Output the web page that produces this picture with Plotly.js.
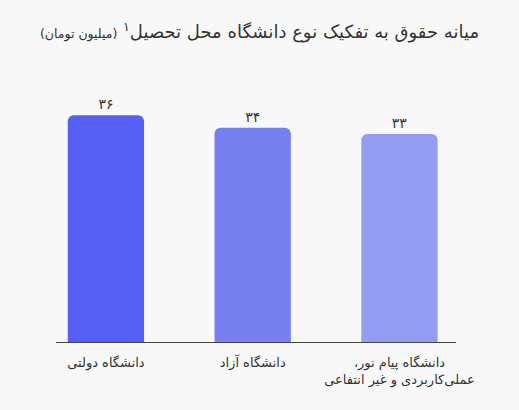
<!DOCTYPE html>
<html>
<head>
<meta charset="utf-8">
<script src="https://cdn.plot.ly/plotly-3.0.1.min.js"></script>
<style>
  html, body { margin: 0; padding: 0; background: #f8f8f8; }
  #chart { width: 519px; height: 410px; }
</style>
</head>
<body>
<div id="chart"></div>
<script>
// data
var categories = [
  "دانشگاه دولتی",
  "دانشگاه آزاد",
  "\u200Fدانشگاه پیام نور،\u200F<br>عملی‌کاربردی و غیر انتفاعی"
];
var salaries = [36, 34, 33];
var valueLabels = ["۳۶", "۳۴", "۳۳"];
var barColors = ["#5660f6", "#7780f1", "#939cf1"];

var FONT = "DejaVu Sans, sans-serif";

var trace = {
  x: categories,
  y: salaries,
  type: "bar",
  width: 0.52,
  marker: { color: barColors },
  text: valueLabels,
  textposition: "outside",
  textfont: { family: FONT, size: 14, color: "#333" },
  cliponaxis: false,
  hoverinfo: "none"
};

var layout = {
  width: 519,
  height: 410,
  paper_bgcolor: "#f8f8f8",
  plot_bgcolor: "#f8f8f8",
  margin: { l: 56, r: 63, t: 90, b: 68 },
  barcornerradius: 6,
  title: {
    text: "میانه حقوق به تفکیک نوع دانشگاه محل تحصیل<sup>۱</sup> <span style='font-size:12.5px'>(میلیون تومان)</span>",
    font: { family: FONT, size: 18, color: "#333" },
    x: 0.5,
    xanchor: "center",
    y: 0.922,
    yanchor: "middle"
  },
  xaxis: {
    range: [-0.34, 2.385],
    showline: true,
    linecolor: "#444",
    linewidth: 1.2,
    ticks: "",
    ticklabelstandoff: 8,
    tickfont: { family: FONT, size: 13, color: "#333" },
    fixedrange: true
  },
  yaxis: {
    range: [0, 40],
    visible: false,
    showgrid: false,
    zeroline: false,
    fixedrange: true
  },
  showlegend: false
};

Plotly.newPlot("chart", [trace], layout, { displayModeBar: false, staticPlot: true });
</script>
</body>
</html>
